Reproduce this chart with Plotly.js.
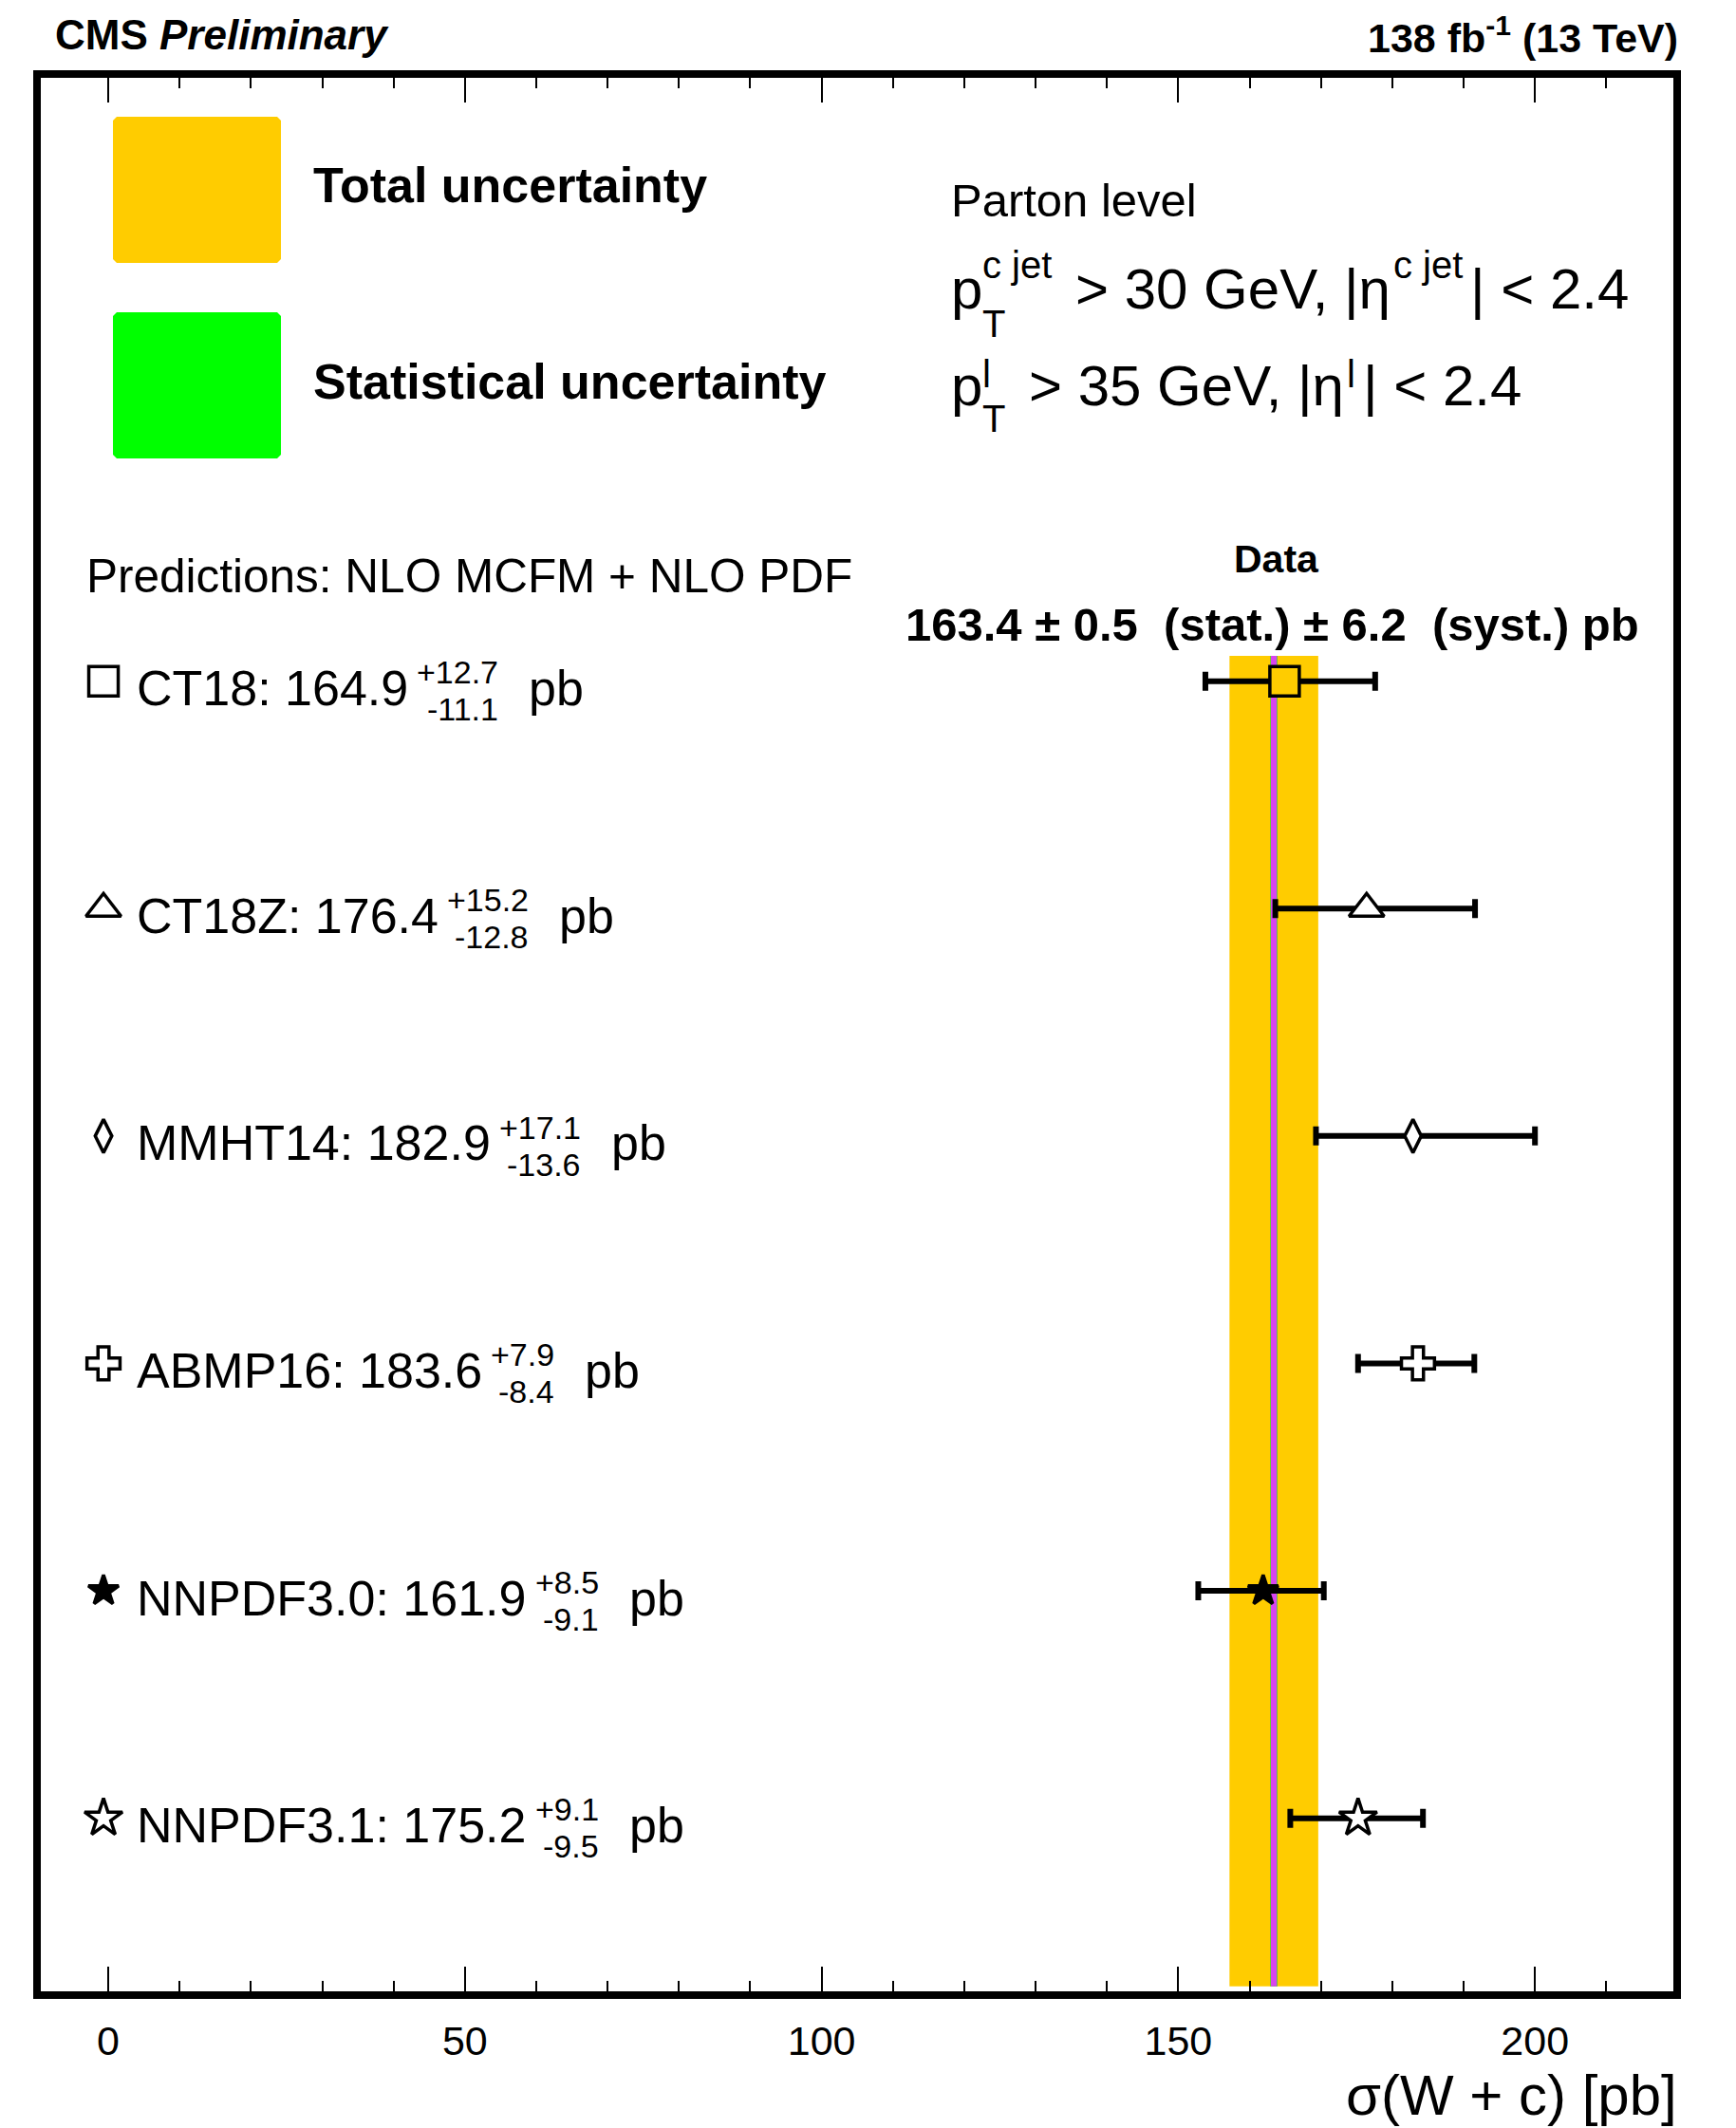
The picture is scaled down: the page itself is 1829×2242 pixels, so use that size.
<!DOCTYPE html>
<html>
<head>
<meta charset="utf-8">
<script src="https://cdn.plot.ly/plotly-3.0.1.min.js"></script>
<style>html,body{margin:0;padding:0;background:#fff;}#chart{width:1829px;height:2242px;}</style>
</head>
<body>
<div id="chart"></div>
<script>
// ---------------- DATA ----------------
const pdfNames = ['CT18', 'CT18Z', 'MMHT14', 'ABMP16', 'NNPDF3.0', 'NNPDF3.1'];
const predValues = [164.9, 176.4, 182.9, 183.6, 161.9, 175.2];
const predErrUp = [12.7, 15.2, 17.1, 7.9, 8.5, 9.1];
const predErrDown = [11.1, 12.8, 13.6, 8.4, 9.1, 9.5];
const dataValue = 163.4;
const dataStat = 0.5;
const dataSyst = 6.2;
const xTickValues = [0, 50, 100, 150, 200];

// ---------------- STYLE ----------------
const FONT = 'Liberation Sans, Arial, Helvetica, sans-serif';
const CFONT = '"Liberation Sans"';
const YELLOW = '#ffcc00';
const GREEN = '#00ff00';
const MAGENTA = '#d745f0';
const symbols = ['square', 'triangle-up', 'diamond-tall', 'cross', 'star', 'star'];
const sizes = [31, 32, 25, 29, 24, 30];
const fills = [YELLOW, '#ffffff', '#ffffff', '#ffffff', '#000000', '#ffffff'];
const labelFills = ['#ffffff', '#ffffff', '#ffffff', '#ffffff', '#000000', '#ffffff'];

// plot area in pixels
const PL = 43, PR = 1763, PT = 82, PB = 2098;
const PW = PR - PL, PH = PB - PT;
const Y_RANGE = [5.761, -2.653];
const X_RANGE = [-9.45, 219.4];

const rows = pdfNames.map((_, i) => i);
const total = Math.sqrt(dataStat * dataStat + dataSyst * dataSyst);

// text measuring
const cv = document.createElement('canvas').getContext('2d');
function tw(s, fs, bold) {
  cv.font = (bold ? 'bold ' : '') + fs + 'px ' + CFONT;
  return cv.measureText(s).width;
}
function px2x(p) { return (p - PL) / PW; }
function px2y(p) { return (PB - p) / PH; }

// text annotation placed by baseline
function T(s, xpx, base, fs, o) {
  o = o || {};
  const c = base - 0.3465 * fs;
  const a = {
    text: s, xref: 'paper', x: px2x(xpx), xanchor: o.anchor || 'left',
    yanchor: 'middle', showarrow: false, borderpad: 0,
    font: {family: FONT, size: fs, color: '#000'}
  };
  if (o.row !== undefined) { a.yref = 'y'; a.y = o.row; a.yshift = -c; }
  else { a.yref = 'paper'; a.y = px2y(c); }
  return a;
}

const annotations = [];

// header
annotations.push(T('<b>CMS <i>Preliminary</i></b>', 57, 52, 44));
annotations.push(T('<b>138 fb<sup>-1</sup> (13 TeV)</b>', 1769, 52, 43, {anchor: 'right'}));

// legend texts
annotations.push(T('<b>Total uncertainty</b>', 329, 213, 52));
annotations.push(T('<b>Statistical uncertainty</b>', 329, 420, 52));

// phase-space texts
annotations.push(T('Parton level', 1001, 228, 49));
function cutLine(base, supTxt, supBase, subBase, mid) {
  const F = 60, S = 40;
  let x = 1001;
  annotations.push(T('p', x, base, F));
  x += tw('p', F);
  annotations.push(T(supTxt, x, supBase, S));
  annotations.push(T('T', x, subBase, S));
  x += Math.max(tw(supTxt, S), tw('T', S)) + 24;
  annotations.push(T(mid, x, base, F));
  x += tw(mid, F) + 3;
  annotations.push(T(supTxt, x, supBase, S));
  x += tw(supTxt, S) + 8;
  annotations.push(T('| < 2.4', x, base, F));
}
cutLine(325, 'c jet', 293, 355, '> 30 GeV, |\u03b7');
cutLine(427, 'l', 408, 455, '> 35 GeV, |\u03b7');

annotations.push(T('Predictions: NLO MCFM + NLO PDF', 90, 624, 49.5));
annotations.push(T('<b>Data</b>', 1345, 603, 41, {anchor: 'center'}));
const NB = '\u00a0';
annotations.push(T('<b>' + dataValue.toFixed(1) + ' \u00b1 ' + dataStat.toFixed(1) + NB + NB + '(stat.) \u00b1 ' +
  dataSyst.toFixed(1) + NB + NB + '(syst.) pb</b>', 1340, 675, 49, {anchor: 'center'}));

// row labels
rows.forEach(i => {
  const main = pdfNames[i] + ': ' + predValues[i].toFixed(1);
  const up = '+' + predErrUp[i].toFixed(1), dn = '-' + predErrDown[i].toFixed(1);
  const x0 = 143;
  annotations.push(T(main, x0, 25.5, 52, {row: i}));
  const xs = x0 + tw(main, 52) + 11;
  const mw = Math.max(tw(up, 34), tw(dn, 34));
  annotations.push(T(up, xs + mw, 2.5, 34, {row: i, anchor: 'right'}));
  annotations.push(T(dn, xs + mw, 41.5, 34, {row: i, anchor: 'right'}));
  annotations.push(T('pb', xs + mw + 30, 25.5, 52, {row: i}));
});

// x axis title
annotations.push(T('\u03c3(W + c) [pb]', 1768, 2228, 60, {anchor: 'right'}));

// legend boxes (chamfered)
function chamfer(x0, y0, x1, y1, c) {
  const P = (x, y) => px2x(x).toFixed(5) + ',' + px2y(y).toFixed(5);
  return 'M' + P(x0 + c, y0) + ' L' + P(x1 - c, y0) + ' L' + P(x1, y0 + c) + ' L' + P(x1, y1 - c) +
    ' L' + P(x1 - c, y1) + ' L' + P(x0 + c, y1) + ' L' + P(x0, y1 - c) + ' L' + P(x0, y0 + c) + ' Z';
}

const shapes = [
  {type: 'path', xref: 'paper', yref: 'paper', path: chamfer(119, 123, 296, 277, 4), fillcolor: YELLOW, line: {width: 0}},
  {type: 'path', xref: 'paper', yref: 'paper', path: chamfer(119, 329, 296, 483, 4), fillcolor: GREEN, line: {width: 0}},
  {type: 'rect', xref: 'x', yref: 'y', x0: dataValue - total, x1: dataValue + total, y0: -0.111, y1: 5.739,
    fillcolor: YELLOW, line: {width: 0}, layer: 'below'},
  {type: 'rect', xref: 'x', yref: 'y', x0: dataValue - dataStat, x1: dataValue + dataStat, y0: -0.111, y1: 5.739,
    fillcolor: GREEN, line: {width: 0}, layer: 'below'},
  {type: 'line', xref: 'x', yref: 'y', x0: dataValue, x1: dataValue, y0: -0.111, y1: 5.739,
    line: {color: MAGENTA, width: 6.5}, layer: 'below'}
];

const traces = [
  {
    type: 'scatter', mode: 'markers', x: predValues, y: rows, hoverinfo: 'skip',
    error_x: {type: 'data', symmetric: false, array: predErrUp, arrayminus: predErrDown,
      color: '#000', thickness: 6, width: 10},
    marker: {symbol: symbols, size: sizes, color: fills, opacity: 1, line: {color: '#000', width: 3.5}}
  },
  {
    type: 'scatter', mode: 'markers', xaxis: 'x2', x: rows.map(() => 0.0384), y: rows, hoverinfo: 'skip',
    marker: {symbol: symbols, size: sizes, color: labelFills, opacity: 1, line: {color: '#000', width: 3.5}}
  }
];

const layout = {
  width: 1829, height: 2242,
  margin: {l: PL, r: 1829 - PR, t: PT, b: 2242 - PB, pad: 0},
  paper_bgcolor: '#fff', plot_bgcolor: '#fff',
  showlegend: false,
  font: {family: FONT, color: '#000'},
  xaxis: {
    range: X_RANGE, tickvals: xTickValues, ticktext: xTickValues.map(String),
    ticks: 'inside', ticklen: 26, tickwidth: 2, tickcolor: '#000',
    minor: {dtick: 10, tick0: 0, ticks: 'inside', ticklen: 11, tickwidth: 2, tickcolor: '#000', showgrid: false},
    showline: true, linewidth: 8, linecolor: '#000', mirror: 'ticks',
    showgrid: false, zeroline: false,
    tickfont: {family: FONT, size: 43, color: '#000'}, ticklabelstandoff: 7
  },
  xaxis2: {overlaying: 'x', range: [0, 1], visible: false, anchor: 'y'},
  yaxis: {
    range: Y_RANGE, showline: true, linewidth: 8, linecolor: '#000', mirror: true,
    ticks: '', showticklabels: false, showgrid: false, zeroline: false
  },
  shapes: shapes,
  annotations: annotations
};

Plotly.newPlot('chart', traces, layout, {staticPlot: true});
</script>
</body>
</html>
